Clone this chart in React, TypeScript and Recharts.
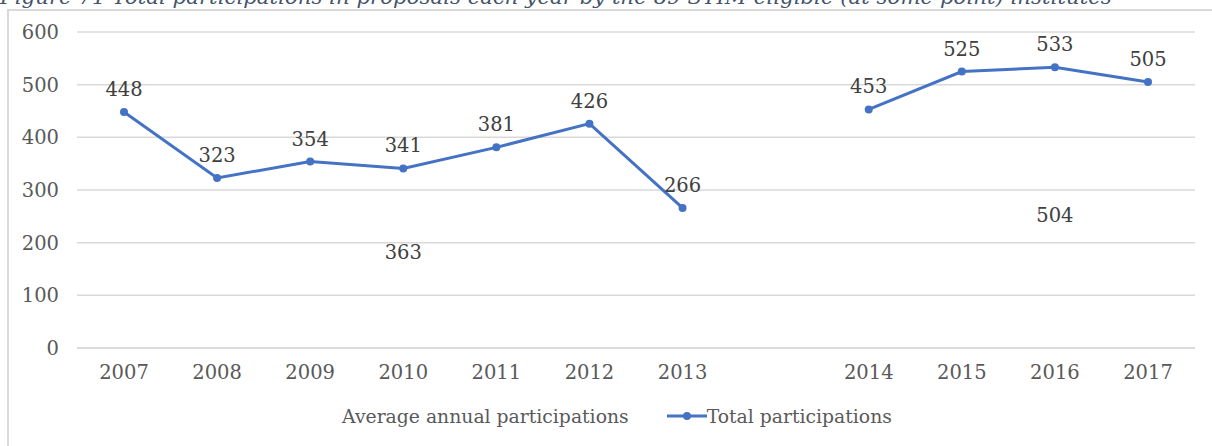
import { CartesianGrid, LabelList, Legend, Line, LineChart, XAxis, YAxis } from "recharts";

const years = ["2007", "2008", "2009", "2010", "2011", "2012", "2013", "", "2014", "2015", "2016", "2017"];
const totalParticipations = [448, 323, 354, 341, 381, 426, 266, null, 453, 525, 533, 505];
const averageParticipations = [363, 363, 363, 363, 363, 363, 363, null, 504, 504, 504, 504];
const averageLabelYears = ["2010", "2016"];
const yTicks = [0, 100, 200, 300, 400, 500, 600];

const data = years.map((year, i) => ({
  year,
  total: totalParticipations[i],
  average: averageParticipations[i],
}));

const FONT = "'DejaVu Serif', Georgia, serif";
const BLUE = "#4472C4";
const TEXT = "#595959";

const TotalLabel = (props: any) => {
  const { x, y, value } = props;
  if (value == null) return null;
  return (
    <text x={x} y={y - 16} textAnchor="middle" fontSize={19.5} fill="#404040" fontFamily={FONT}>
      {value}
    </text>
  );
};

const AverageLabel = (props: any) => {
  const { x, y, value, index } = props;
  if (value == null || !averageLabelYears.includes(data[index]?.year)) return null;
  return (
    <text x={x} y={y} dy="0.35em" textAnchor="middle" fontSize={19.5} fill="#404040" fontFamily={FONT}>
      {value}
    </text>
  );
};

const LegendContent = () => (
  <div
    style={{
      display: "flex",
      justifyContent: "center",
      alignItems: "center",
      height: 30,
      fontFamily: FONT,
      fontSize: 18.8,
      color: TEXT,
      paddingLeft: 22,
    }}
  >
    <span>Average annual participations</span>
    <svg width={40} height={10} style={{ marginLeft: 38 }}>
      <line x1={0} y1={5} x2={40} y2={5} stroke={BLUE} strokeWidth={3} />
      <circle cx={20} cy={5} r={4} fill={BLUE} />
    </svg>
    <span>Total participations</span>
  </div>
);

export default function App() {
  return (
    <div style={{ position: "absolute", left: 0, top: 0, width: 1212, height: 446, overflow: "hidden", background: "#fff" }}>
      <div
        style={{
          position: "absolute",
          left: 0,
          top: -14,
          whiteSpace: "nowrap",
          fontFamily: FONT,
          fontStyle: "italic",
          fontSize: 21.3,
          lineHeight: "21px",
          color: "#44546A",
        }}
      >
        Figure 71 Total participations in proposals each year by the 89 STIM-eligible (at some point) institutes
      </div>
      <div
        style={{
          position: "absolute",
          left: 7,
          top: 9,
          width: 1220,
          height: 460,
          borderLeft: "2px solid #D9D9D9",
          borderTop: "2px solid #D9D9D9",
        }}
      />
      <div style={{ position: "absolute", left: 0, top: 0 }}>
        <LineChart width={1212} height={446} data={data} margin={{ top: 32, right: 17, left: 17, bottom: 15 }}>
          <CartesianGrid vertical={false} stroke="#D9D9D9" strokeWidth={1.5} />
          <XAxis
            dataKey="year"
            height={53}
            padding={{ left: 47, right: 47 }}
            axisLine={{ stroke: "#D9D9D9", strokeWidth: 1.5 }}
            tickLine={false}
            tickMargin={11}
            tick={{ fill: TEXT, fontSize: 19.5, fontFamily: FONT }}
            interval={0}
          />
          <YAxis
            width={60}
            domain={[0, 600]}
            ticks={yTicks}
            axisLine={false}
            tickLine={false}
            tickMargin={12}
            tick={{ fill: TEXT, fontSize: 19.5, fontFamily: FONT }}
          />
          <YAxis yAxisId="avg" orientation="right" hide domain={[0, 1200]} />
          <Legend verticalAlign="bottom" content={<LegendContent />} />
          <Line
            yAxisId="avg"
            dataKey="average"
            name="Average annual participations"
            stroke="none"
            dot={false}
            activeDot={false}
            isAnimationActive={false}
          >
            <LabelList dataKey="average" content={<AverageLabel />} />
          </Line>
          <Line
            dataKey="total"
            name="Total participations"
            stroke={BLUE}
            strokeWidth={3}
            dot={{ r: 4, fill: BLUE, stroke: BLUE, strokeWidth: 0 }}
            isAnimationActive={false}
          >
            <LabelList dataKey="total" content={<TotalLabel />} />
          </Line>
        </LineChart>
      </div>
    </div>
  );
}
